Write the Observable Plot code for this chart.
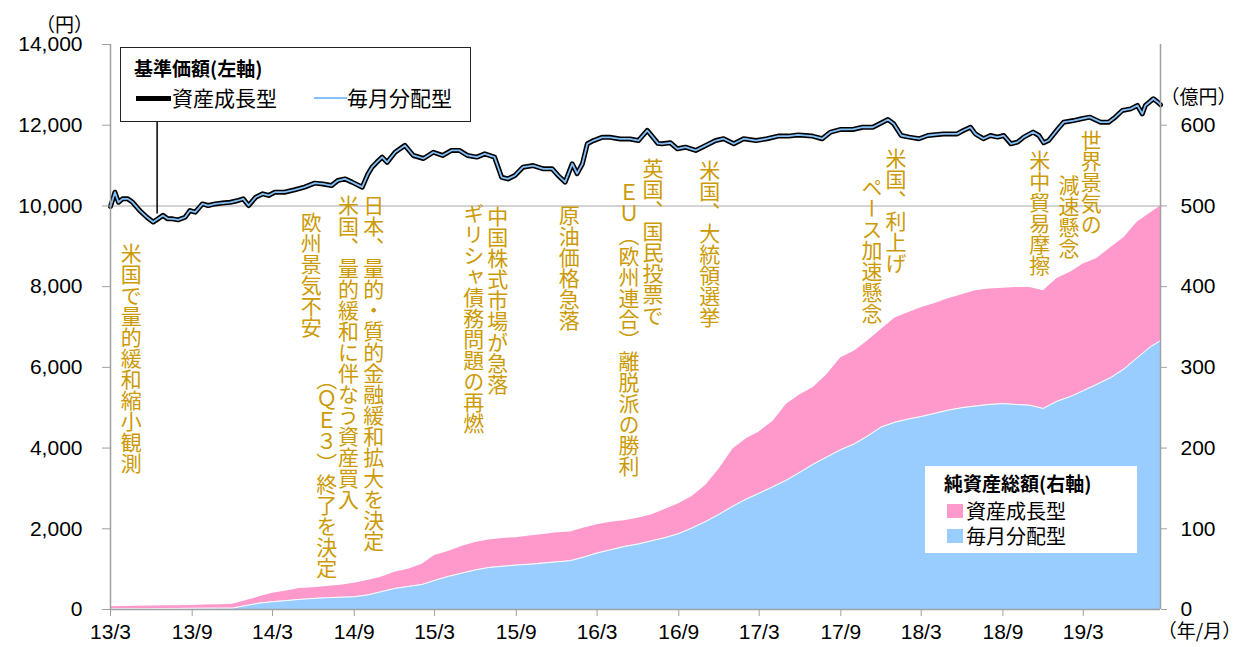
<!DOCTYPE html>
<html><head><meta charset="utf-8">
<script src="https://cdn.jsdelivr.net/npm/d3@7"></script>
<script src="https://cdn.jsdelivr.net/npm/@observablehq/plot@0.6"></script>
<style>
body{margin:0;background:#fff;}
#wrap{position:relative;width:1240px;height:647px;overflow:hidden;}
.lg{position:absolute;background:#fff;box-sizing:border-box;font-family:"Noto Sans CJK JP",sans-serif;color:#000;}
.lg div{position:absolute;white-space:nowrap;line-height:1;}
</style></head>
<body><div id="wrap"></div>
<script>
// ---- 基準価額 (円) ----
const navDates = ["2013-03-01","2013-03-11","2013-03-19","2013-03-28","2013-04-09","2013-04-20","2013-05-06","2013-05-22","2013-06-05","2013-06-16","2013-06-27","2013-07-08","2013-07-19","2013-07-31","2013-08-16","2013-08-27","2013-09-08","2013-09-24","2013-10-07","2013-10-23","2013-11-08","2013-11-26","2013-12-14","2013-12-25",
"2014-01-06","2014-01-22","2014-02-07","2014-02-20","2014-03-06","2014-03-28","2014-04-20","2014-05-12","2014-06-04","2014-06-22","2014-07-12","2014-07-26","2014-08-11","2014-08-27","2014-09-19","2014-10-02","2014-10-11","2014-10-22","2014-11-03","2014-11-14","2014-12-02","2014-12-24",
"2015-01-12","2015-02-04","2015-02-26","2015-03-19","2015-04-08","2015-04-26","2015-05-14","2015-06-04","2015-06-22","2015-07-14","2015-07-30","2015-08-13","2015-08-29","2015-09-16","2015-10-09","2015-11-01","2015-11-21","2015-12-04","2015-12-20",
"2016-01-05","2016-01-16","2016-01-28","2016-02-08","2016-02-22","2016-03-12","2016-03-30","2016-04-22","2016-05-14","2016-06-02","2016-06-22","2016-07-05","2016-07-16","2016-07-25","2016-08-13","2016-08-29","2016-09-16","2016-10-09","2016-11-01","2016-11-23","2016-12-11",
"2017-01-03","2017-01-25","2017-02-22","2017-03-19","2017-04-13","2017-05-06","2017-05-28","2017-06-29","2017-07-21","2017-08-09","2017-09-01","2017-09-28","2017-10-20","2017-11-12","2017-12-04","2017-12-16","2017-12-29",
"2018-01-15","2018-02-02","2018-02-24","2018-03-16","2018-04-20","2018-05-21","2018-06-04","2018-06-20","2018-07-01","2018-07-19","2018-08-04","2018-08-20","2018-09-03","2018-09-19","2018-10-04","2018-10-18","2018-11-08","2018-11-21","2018-12-02","2018-12-13",
"2019-01-03","2019-01-16","2019-02-07","2019-02-25","2019-03-16","2019-04-09","2019-04-27","2019-05-12","2019-05-28","2019-06-16","2019-07-01","2019-07-12","2019-07-19","2019-08-06","2019-08-16","2019-08-22"];
const navGrowth = [9985,10340,10090,10175,10175,10090,9885,9720,9600,9680,9765,9680,9680,9655,9720,9885,9845,10050,10010,10050,10070,10090,10135,10175,
10010,10215,10300,10260,10340,10340,10400,10465,10565,10545,10505,10630,10670,10590,10465,10795,10960,11085,11210,11080,11330,11500,
11250,11175,11330,11250,11375,11375,11250,11210,11290,11210,10710,10670,10755,10960,11000,10920,10920,10755,10590,
11045,10800,11045,11540,11620,11700,11700,11660,11660,11620,11870,11700,11550,11540,11565,11415,11455,11375,11500,11620,11665,
11540,11665,11620,11665,11730,11730,11760,11730,11665,11830,11895,11895,11950,11950,12075,12140,12035,
11745,11705,11665,11745,11785,11785,11870,11950,11785,11665,11745,11705,11745,11540,11580,11705,11830,11745,11565,11620,
11910,12075,12115,12160,12200,12075,12075,12200,12365,12405,12490,12280,12490,12655,12570,12505];
const navMonthly = [9985,10340,10090,10175,10175,10090,9885,9720,9600,9680,9765,9680,9680,9655,9720,9885,9845,10050,10010,10050,10070,10090,10135,10175,
10010,10215,10300,10260,10340,10340,10400,10465,10565,10545,10505,10630,10670,10590,10465,10795,10960,11085,11210,11080,11330,11500,
11250,11175,11330,11250,11375,11375,11250,11210,11290,11210,10710,10670,10755,10960,11000,10920,10920,10755,10590,
11045,10800,11045,11540,11620,11700,11700,11660,11660,11620,11870,11700,11550,11540,11565,11415,11455,11375,11500,11620,11665,
11540,11665,11620,11665,11730,11730,11760,11730,11665,11830,11895,11895,11950,11950,12075,12140,12035,
11745,11705,11665,11745,11785,11785,11870,11950,11785,11665,11745,11705,11745,11540,11580,11705,11830,11745,11565,11620,
11910,12075,12115,12160,12200,12075,12075,12200,12365,12405,12490,12280,12490,12655,12570,12505];

// ---- 純資産総額 (億円), month starts 2013/3 .. 2019/8 then last day ----
const startDate = "2013-03-01";
const endDate = "2019-08-22";
const assetsMonthly = [0.8,0.9,1.0,1.1,1.2,1.3,1.4,1.5,1.6,1.7,
5,8,9.6,11,12.5,13.7,14.5,15.2,15.8,18,
22,26,28.5,31,36,41,45,49,52,53.5,
55,56,57.5,59,60.5,65,
70,74,78,81,85,89,94,101,109,118,128,137,
144,152,160,170,180,189,198,205,215,226,232,236,
239,243,247,250,252,254,255,254,253,249,258,264,
271,279,287,298,312,326,
333];
const assetsGrowth = [2.5,2.7,2.9,3.1,3.3,3.5,3.7,4.0,4.3,4.8,
6,8,10.4,12,13.5,13.3,14,14.8,16.7,18,
18,20,21.5,25,31,31,33,34,34,34.5,
34,35,35.5,36,35.5,36,
35,34,32,32,32,35,37,39,45,56,71,75,
76,81,94,96,95,102,114,115,118,121,129,132,
135,136,138,140,143,143,143,145,146,146,152,154,
157,156,161,163,168,166,
167];

// ---- axes ----
const xTickDates = ["2013-03-01","2013-09-01","2014-03-01","2014-09-01","2015-03-01","2015-09-01","2016-03-01","2016-09-01","2017-03-01","2017-09-01","2018-03-01","2018-09-01","2019-03-01"];
const xTickLabels = ["13/3","13/9","14/3","14/9","15/3","15/9","16/3","16/9","17/3","17/9","18/3","18/9","19/3"];
const yTicksLeft = [0,2000,4000,6000,8000,10000,12000,14000];
const yTicksRight = [0,100,200,300,400,500,600];
const fundNames = ["資産成長型","毎月分配型"];

// ---- events (vertical labels): date, top position in 円 ----
const eventLabels = ["米国で量的緩和縮小観測","欧州景気不安","日本、量的・質的金融緩和拡大を決定","米国、量的緩和に伴なう資産買入","（ＱＥ３）終了を決定","中国株式市場が急落","ギリシャ債務問題の再燃","原油価格急落","英国、国民投票で","ＥＵ（欧州連合）離脱派の勝利","米国、大統領選挙","米国、利上げ","ペース加速懸念","米中貿易摩擦","世界景気の","減速懸念"];
const eventDates = ["2013-04-17","2014-05-27","2014-10-15","2014-08-19","2014-07-01","2015-07-21","2015-05-28","2015-12-29","2016-07-05","2016-05-12","2016-11-10","2018-01-03","2017-11-10","2018-11-23","2019-03-19","2019-01-28"];
const eventTops = [9268,10036,10457,10457,6146,10184,10259,10209,11374,10754,11324,11622,10903,11572,12068,10953];

// legend leader line
const leaderDate = "2013-06-14", leaderFrom = 9800, leaderTo = 12090;

const RATIO = 10000 / 500; // 右軸(億円) -> 左軸(円)
const GOLD = "#cc9a06";
const PINK = "#ff99cc", BLUE = "#99ccff";
const AXIS = "#a0a0a0";
const NUMFONT = "'Liberation Sans', Arial, sans-serif";
const JPFONT = "'Noto Sans CJK JP', sans-serif";

const nav = navDates.map((d, i) => ({date: new Date(d), growth: navGrowth[i], monthly: navMonthly[i]}));
const assetDates = d3.utcMonth.range(new Date(startDate), new Date("2019-08-02")).concat([new Date(endDate)]);
const assetRows = [
  ...assetDates.map((d, i) => ({date: d, fund: fundNames[1], v: assetsMonthly[i]})),
  ...assetDates.map((d, i) => ({date: d, fund: fundNames[0], v: assetsGrowth[i]}))
];
const blueRows = assetRows.filter(r => r.fund === fundNames[1]);
const events = eventLabels.map((t, i) => ({label: t, date: new Date(eventDates[i]), top: eventTops[i]}));
const tickMap = new Map(xTickDates.map((d, i) => [+new Date(d), xTickLabels[i]]));

const svg = Plot.plot({
  width: 1240, height: 647,
  marginLeft: 110, marginRight: 80, marginTop: 44, marginBottom: 38,
  style: {fontFamily: NUMFONT, fontSize: "21px", background: "white", color: "black"},
  x: {type: "utc", domain: [new Date(startDate), new Date(endDate)]},
  y: {domain: [0, 14000]},
  color: {domain: fundNames, range: [PINK, BLUE]},
  marks: [
    Plot.ruleY([10000], {stroke: "#c4c4c4", strokeWidth: 1.5}),
    Plot.areaY(assetRows, {x: "date", y: d => d.v * RATIO, fill: "fund", z: "fund", curve: "linear"}),
    Plot.lineY(blueRows, {x: "date", y: d => d.v * RATIO, stroke: "white", strokeWidth: 1}),
    Plot.ruleX([new Date(leaderDate)], {y1: leaderFrom, y2: leaderTo, stroke: "black", strokeWidth: 1.5}),
    Plot.lineY(nav, {x: "date", y: "growth", stroke: "black", strokeWidth: 5, strokeLinejoin: "round"}),
    Plot.lineY(nav, {x: "date", y: "monthly", stroke: "#85c2fa", strokeWidth: 1.8, strokeLinejoin: "round"}),
    Plot.ruleY([0], {stroke: AXIS, strokeWidth: 1.5}),
    Plot.ruleX([new Date(startDate)], {stroke: AXIS, strokeWidth: 1.5}),
    Plot.ruleX([new Date(endDate)], {stroke: AXIS, strokeWidth: 1.5}),
    Plot.axisX(xTickDates.map(d => new Date(d)), {tickFormat: d => tickMap.get(+d), tickSize: 7, tickPadding: 8, stroke: AXIS, fill: "black", label: null, fontSize: 21}),
    Plot.axisY(yTicksLeft, {anchor: "left", tickFormat: d3.format(","), tickSize: 8, tickPadding: 20, stroke: AXIS, fill: "black", label: null, fontSize: 21}),
    Plot.axisY(yTicksRight.map(v => v * RATIO), {anchor: "right", tickFormat: d => d / RATIO, tickSize: 6, tickPadding: 14, stroke: AXIS, fill: "black", label: null, fontSize: 21}),
    Plot.text(events, {x: "date", y: "top", text: "label", fill: GOLD, fontSize: 21, fontFamily: JPFONT, textAnchor: "start"}),
    Plot.text(["（円）"], {frameAnchor: "top-left", textAnchor: "middle", dx: -46, dy: -26, fontFamily: JPFONT, fontSize: 19, fill: "black"}),
    Plot.text(["（億円）"], {frameAnchor: "top-right", textAnchor: "middle", dx: 38, dy: 46, fontFamily: JPFONT, fontSize: 19, fill: "black"}),
    Plot.text(["（年/月）"], {frameAnchor: "bottom-right", textAnchor: "middle", dx: 39, dy: 28, fontFamily: JPFONT, fontSize: 19, fill: "black"})
  ]
});

// vertical Japanese writing for event labels
svg.querySelectorAll("g").forEach(g => {
  if ((g.getAttribute("fill") || "").toLowerCase() === GOLD) {
    g.querySelectorAll("text").forEach(t => {
      t.removeAttribute("dy");
      t.setAttribute("text-anchor", "start");
      t.style.writingMode = "vertical-rl";
      t.style.textOrientation = "mixed";
    });
  }
});

const wrap = document.getElementById("wrap");
wrap.appendChild(svg);

// legend: 基準価額(左軸)
const lg1 = document.createElement("div");
lg1.className = "lg";
Object.assign(lg1.style, {left: "120px", top: "47px", width: "351px", height: "75px", border: "1.5px solid #222"});
lg1.innerHTML = `
  <div style="left:13px;top:10px;font-size:19px;font-weight:bold;">基準価額(左軸)</div>
  <div style="left:15px;top:48px;width:35px;height:5px;background:#000;"></div>
  <div style="left:51px;top:39px;font-size:21px;">${fundNames[0]}</div>
  <div style="left:193px;top:49px;width:33px;height:1.8px;background:#85c2fa;"></div>
  <div style="left:226px;top:39px;font-size:21px;">${fundNames[1]}</div>`;
wrap.appendChild(lg1);

// legend: 純資産総額(右軸)
const lg2 = document.createElement("div");
lg2.className = "lg";
Object.assign(lg2.style, {left: "925px", top: "466px", width: "212px", height: "87px"});
lg2.innerHTML = `
  <div style="left:19px;top:7px;font-size:19px;font-weight:bold;">純資産総額(右軸)</div>
  <div style="left:22px;top:38px;width:16px;height:14px;background:${PINK};"></div>
  <div style="left:41px;top:35px;font-size:20px;">${fundNames[0]}</div>
  <div style="left:22px;top:63px;width:16px;height:14px;background:${BLUE};"></div>
  <div style="left:41px;top:60px;font-size:20px;">${fundNames[1]}</div>`;
wrap.appendChild(lg2);
</script>
</body></html>
